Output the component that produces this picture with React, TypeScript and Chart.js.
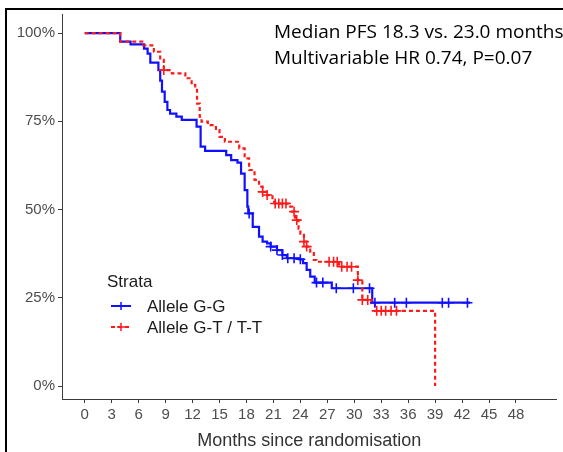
import React, { useEffect, useRef } from "react";
import { Chart, registerables } from "chart.js";

Chart.register(...registerables);

// ---- data ----
const xTickValues = [0, 3, 6, 9, 12, 15, 18, 21, 24, 27, 30, 33, 36, 39, 42, 45, 48];
const yTickValues = [0, 25, 50, 75, 100];
const seriesNames = ["Allele G-G", "Allele G-T / T-T"];
const legendTitle = "Strata";
const xTitle = "Months since randomisation";
const annotationLines = ["Median PFS 18.3 vs. 23.0 months", "Multivariable HR 0.74, P=0.07"];

// Allele G-G (blue) : event times (months) and survival (%)
const ggTimes = [0, 3.95, 5.1, 6.6, 7.0, 7.3, 8.2, 8.4, 8.6, 8.9, 9.2, 9.5, 10.2, 10.8, 12.45, 12.9, 13.4, 15.75, 16.3, 17.0, 17.4, 17.8, 18.1, 18.2, 18.7, 19.4, 19.8, 20.3, 20.7, 21.4, 22.0, 22.5, 23.9, 24.3, 24.7, 25.1, 25.6, 27.5, 32.0, 42.9];
const ggSurv = [100, 97.6, 96.8, 95.6, 94.2, 91.6, 89.5, 86.5, 83.4, 80.5, 78.2, 77.2, 76.3, 75.4, 73.5, 67.8, 66.6, 65.4, 64.0, 63.3, 60.2, 55.5, 50.8, 48.9, 45.1, 42.3, 40.9, 40.4, 39.5, 38.5, 37.1, 36.2, 35.9, 34.8, 32.9, 31.0, 29.3, 27.7, 23.6, 23.6];
const ggCensor = [18.3, 20.7, 21.4, 22.0, 22.6, 23.3, 24.0, 25.8, 26.5, 28.0, 29.9, 31.7, 32.3, 34.5, 35.8, 39.8, 40.5, 42.6];

// Allele G-T / T-T (red)
const gtTimes = [0, 3.95, 6.4, 7.7, 8.4, 8.8, 9.7, 11.2, 11.9, 12.3, 12.5, 12.8, 13.0, 13.7, 14.6, 15.0, 15.6, 17.2, 17.8, 18.3, 18.9, 19.4, 19.8, 20.3, 20.9, 21.2, 22.7, 23.1, 23.4, 23.8, 24.0, 24.4, 24.7, 25.1, 25.5, 25.8, 28.3, 30.4, 30.9, 31.9, 32.3, 39.0, 39.0];
const gtSurv = [100, 97.6, 96.5, 94.7, 92.4, 89.5, 88.6, 87.2, 85.3, 83.9, 80.0, 76.3, 74.9, 73.9, 72.5, 70.6, 69.2, 67.3, 64.5, 61.2, 58.4, 56.5, 55.0, 54.1, 52.2, 51.7, 50.8, 49.4, 47.0, 44.6, 43.2, 40.9, 39.5, 38.1, 35.7, 35.2, 33.8, 30.0, 24.4, 23.5, 21.3, 21.3, 0];
const gtCensor = [8.8, 19.8, 20.3, 21.2, 21.6, 22.0, 22.4, 23.3, 23.6, 24.4, 24.7, 27.2, 27.7, 28.1, 28.6, 29.2, 29.7, 30.4, 30.9, 31.5, 32.5, 33.0, 33.5, 34.1, 34.7];

const BLUE = "#1010ff";
const RED = "#ff1a1a";
const AXIS_TEXT = "#4d4d4d";
const AXIS_LINE = "#3a3a3a";
const FONT = '"Liberation Sans", Arial, sans-serif';

function survAt(times: number[], surv: number[], t: number) {
  let v = surv[0];
  for (let i = 0; i < times.length; i++) {
    if (times[i] <= t) v = surv[i];
    else break;
  }
  return v;
}

const overlayPlugin = {
  id: "overlay",
  afterDraw(chart: any) {
    const ctx = chart.ctx;
    ctx.save();
    // legend
    ctx.fillStyle = "#1a1a1a";
    ctx.textBaseline = "middle";
    ctx.textAlign = "left";
    ctx.font = `17px ${FONT}`;
    ctx.fillText(legendTitle, 107, 282);
    const items = [
      { name: seriesNames[0], color: BLUE, dash: [] as number[], y: 306 },
      { name: seriesNames[1], color: RED, dash: [4, 3], y: 327 },
    ];
    items.forEach((it) => {
      ctx.strokeStyle = it.color;
      ctx.lineWidth = 2;
      ctx.setLineDash(it.dash);
      ctx.beginPath();
      ctx.moveTo(111, it.y);
      ctx.lineTo(131, it.y);
      ctx.stroke();
      ctx.setLineDash([]);
      ctx.lineWidth = 1.5;
      ctx.beginPath();
      ctx.moveTo(121, it.y - 4);
      ctx.lineTo(121, it.y + 4);
      ctx.moveTo(117, it.y);
      ctx.lineTo(125, it.y);
      ctx.stroke();
      ctx.fillStyle = "#1a1a1a";
      ctx.fillText(it.name, 147, it.y + 1);
    });
    // annotation
    ctx.fillStyle = "#000";
    ctx.font = `19px "Open Sans", "Noto Sans", sans-serif`;
    ctx.fillText(annotationLines[0], 274, 33);
    ctx.fillText(annotationLines[1], 274, 59);
    ctx.restore();
  },
};

export default function App() {
  const ref = useRef<HTMLCanvasElement | null>(null);

  useEffect(() => {
    if (!ref.current) return;
    const toPts = (t: number[], s: number[]) => t.map((x, i) => ({ x, y: s[i] }));
    const censorPts = (c: number[], t: number[], s: number[]) => c.map((x) => ({ x, y: survAt(t, s, x) }));

    const chart = new Chart(ref.current, {
      type: "scatter",
      data: {
        datasets: [
          {
            type: "line",
            label: seriesNames[0],
            data: toPts(ggTimes, ggSurv),
            borderColor: BLUE,
            backgroundColor: BLUE,
            borderWidth: 2.2,
            stepped: "before",
            pointRadius: 0,
            fill: false,
            order: 3,
          } as any,
          {
            type: "line",
            label: seriesNames[1],
            data: toPts(gtTimes, gtSurv),
            borderColor: RED,
            backgroundColor: RED,
            borderWidth: 2.2,
            borderDash: [4, 3],
            stepped: "before",
            pointRadius: 0,
            fill: false,
            order: 2,
          } as any,
          {
            type: "scatter",
            label: seriesNames[0] + " censored",
            data: censorPts(ggCensor, ggTimes, ggSurv),
            pointStyle: "cross",
            pointRadius: 5,
            borderColor: BLUE,
            borderWidth: 1.6,
            order: 1,
          } as any,
          {
            type: "scatter",
            label: seriesNames[1] + " censored",
            data: censorPts(gtCensor, gtTimes, gtSurv),
            pointStyle: "cross",
            pointRadius: 5,
            borderColor: RED,
            borderWidth: 1.6,
            order: 0,
          } as any,
        ],
      },
      options: {
        animation: false,
        responsive: false,
        layout: { padding: { left: 0, top: 14, right: 0, bottom: 0 } },
        plugins: { legend: { display: false }, tooltip: { enabled: false } },
        scales: {
          x: {
            type: "linear",
            min: -2.53,
            max: 52.5,
            afterBuildTicks: (axis: any) => {
              axis.ticks = xTickValues.map((v) => ({ value: v }));
            },
            afterFit: (axis: any) => {
              axis.height = 53;
            },
            ticks: {
              color: AXIS_TEXT,
              font: { family: FONT, size: 15 },
              padding: 3,
              maxRotation: 0,
              autoSkip: false,
            },
            grid: { drawOnChartArea: false, drawTicks: true, tickLength: 4, color: AXIS_LINE },
            border: { display: true, color: AXIS_LINE, width: 1 },
            title: {
              display: true,
              text: xTitle,
              color: "#333",
              font: { family: FONT, size: 18 },
              padding: { top: 0, bottom: 0 },
            },
          },
          y: {
            type: "linear",
            min: -3.68,
            max: 105.4,
            afterBuildTicks: (axis: any) => {
              axis.ticks = yTickValues.map((v) => ({ value: v }));
            },
            afterFit: (axis: any) => {
              axis.width = 62;
            },
            ticks: {
              color: AXIS_TEXT,
              font: { family: FONT, size: 15 },
              padding: 3,
              callback: (v: any) => `${v}%`,
            },
            grid: { drawOnChartArea: false, drawTicks: true, tickLength: 4, color: AXIS_LINE },
            border: { display: true, color: AXIS_LINE, width: 1 },
          },
        },
      },
      plugins: [overlayPlugin],
    } as any);
    return () => chart.destroy();
  }, []);

  return (
    <div style={{ position: "fixed", left: 0, top: 0, width: 563, height: 452, background: "#fff", overflow: "hidden" }}>
      <canvas ref={ref} width={563} height={452} style={{ position: "absolute", left: 0, top: 0, width: 563, height: 452 }} />
      <div style={{ position: "absolute", left: 5, top: 8, width: 558, height: 2, background: "#000" }} />
      <div style={{ position: "absolute", left: 5, top: 8, width: 2, height: 444, background: "#000" }} />
    </div>
  );
}
